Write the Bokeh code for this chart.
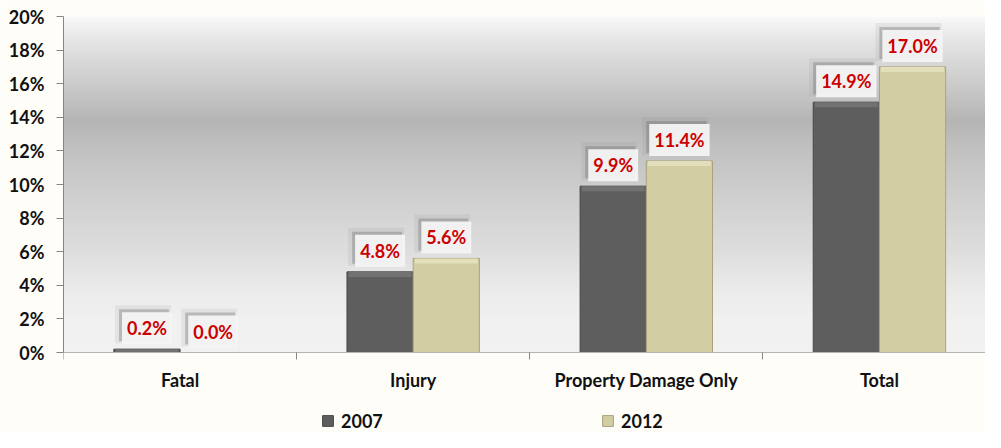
import numpy as np
from bokeh.plotting import figure
from bokeh.models import (ColumnDataSource, FixedTicker, PrintfTickFormatter,
                          Legend, LegendItem, Range1d)
from bokeh.core.properties import value
from bokeh.embed import file_html
from bokeh.resources import INLINE

# ---- data ----
categories = ["Fatal", "Injury", "Property Damage Only", "Total"]
years = ["2007", "2012"]
values_2007 = [0.2, 4.8, 9.9, 14.9]
values_2012 = [0.0, 5.6, 11.4, 17.0]
y_ticks = [0, 2, 4, 6, 8, 10, 12, 14, 16, 18, 20]

# ---- style ----
FONT = "Lato"
C2007 = "#5e5e5e"
C2007_LINE = "#474747"
C2007_TOP = "#727272"
C2012 = "#d3cda4"
C2012_LINE = "#a8a37e"
C2012_TOP = "#e4dfbb"
RED = "#cc0000"
PAGE_BG = "#fefdf8"
FS = "18px"

W, H = 985, 432
TOP_PX, ZERO_PX, LEFT_PX = 16, 352, 63
y_lo, y_hi = y_ticks[0], y_ticks[-1]
y_start = y_lo - (H - ZERO_PX) * (y_hi - y_lo) / (ZERO_PX - TOP_PX)

n = len(categories)
x_end = 3.955
dodge = 0.142
bar_w = 0.284
bevel = 0.3

idx = np.arange(n) + 0.5
v07 = np.array(values_2007)
v12 = np.array(values_2012)
src07 = ColumnDataSource(dict(x=idx - dodge, top=v07, bev=np.maximum(v07 - bevel, 0),
                              label=["%.1f%%" % v for v in values_2007]))
src12 = ColumnDataSource(dict(x=idx + dodge, top=v12, bev=np.maximum(v12 - bevel, 0),
                              label=["%.1f%%" % v for v in values_2012]))

p = figure(width=W, height=H, output_backend="svg", toolbar_location=None,
           x_range=Range1d(0, x_end), y_range=Range1d(y_start, y_hi),
           min_border_left=LEFT_PX, min_border_right=0, min_border_top=TOP_PX,
           min_border_bottom=0)
p.border_fill_color = PAGE_BG
p.background_fill_color = PAGE_BG
p.outline_line_color = None
p.xgrid.visible = False
p.ygrid.visible = False

# background gradient of the plot area
stops_pos = [0.0, 0.066, 0.18, 0.31, 0.38, 0.52, 0.70, 0.81, 0.90, 1.0]
stops_val = [249, 230, 208, 181, 192, 206, 222, 235, 241, 242]
rows = 200
t = np.linspace(1, 0, rows)  # image row 0 is bottom
g = np.interp(t, stops_pos, stops_val).astype(np.uint32)
img = np.empty((rows, 1), dtype=np.uint32)
img[:, 0] = (255 << 24) | (g << 16) | (g << 8) | g
p.image_rgba(image=[img], x=0, y=y_lo, dw=x_end, dh=y_hi - y_lo)

# bars
r07 = p.vbar(x="x", top="top", width=bar_w, source=src07, fill_color=C2007,
             line_color=C2007_LINE, line_width=1)
r12 = p.vbar(x="x", top="top", width=bar_w, source=src12, fill_color=C2012,
             line_color=C2012_LINE, line_width=1)
# bevel highlight on bar tops
p.vbar(x="x", top="top", bottom="bev", width=bar_w * 0.95, source=src07,
       fill_color=C2007_TOP, line_color=None)
p.vbar(x="x", top="top", bottom="bev", width=bar_w * 0.95, source=src12,
       fill_color=C2012_TOP, line_color=None)

# data labels with shadowed boxes
for src in (src07, src12):
    p.text(x="x", y="top", text="label", source=src, x_offset=-4, y_offset=-25,
           text_align="center", text_baseline="middle",
           text_font=value(FONT), text_font_style="bold", text_font_size=FS,
           text_alpha=0, padding=8, background_fill_color="#808080",
           background_fill_alpha=0.12)
    p.text(x="x", y="top", text="label", source=src, x_offset=-3, y_offset=-24,
           text_align="center", text_baseline="middle",
           text_font=value(FONT), text_font_style="bold", text_font_size=FS,
           text_alpha=0, padding=5, background_fill_color="#6a6a6a",
           background_fill_alpha=0.35)
    p.text(x="x", y="top", text="label", source=src, y_offset=-21,
           text_align="center", text_baseline="middle",
           text_font=value(FONT), text_font_style="bold", text_font_size=FS,
           text_color=RED, padding=5, background_fill_color="#f4f4f4",
           background_fill_alpha=0.95)

# legend markers (legend only; no visible point)
m07 = p.scatter(x=[np.nan], y=[np.nan], marker="square", size=11,
                fill_color=C2007, line_color=C2007_LINE)
m12 = p.scatter(x=[np.nan], y=[np.nan], marker="square", size=11,
                fill_color=C2012, line_color=C2012_LINE)

# y axis
ya = p.yaxis[0]
ya.ticker = FixedTicker(ticks=y_ticks)
ya.formatter = PrintfTickFormatter(format="%d%%")
ya.bounds = (y_lo, y_hi)
ya.axis_line_color = "#868686"
ya.major_tick_line_color = "#868686"
ya.major_tick_out = 7
ya.major_tick_in = 0
ya.minor_tick_line_color = None
ya.major_label_standoff = 12
ya.major_label_text_font = FONT
ya.major_label_text_font_style = "bold"
ya.major_label_text_font_size = FS
ya.major_label_text_color = "#111111"

# x axis, drawn at y = 0 inside the frame
xa = p.xaxis[0]
xa.fixed_location = y_lo
xa.bounds = (0, x_end)
xa.ticker = FixedTicker(ticks=list(idx), minor_ticks=list(range(n)))
xa.major_label_overrides = {float(v): c for v, c in zip(idx, categories)}
xa.axis_line_color = "#b4b4b4"
xa.major_tick_line_color = None
xa.major_tick_out = 0
xa.major_tick_in = 0
xa.minor_tick_line_color = "#868686"
xa.minor_tick_out = 7
xa.minor_tick_in = 0
xa.major_label_standoff = 9
xa.major_label_text_font = FONT
xa.major_label_text_font_style = "bold"
xa.major_label_text_font_size = FS
xa.major_label_text_color = "#111111"

# legend
legend = Legend(items=[LegendItem(label=years[0], renderers=[m07]),
                       LegendItem(label=years[1], renderers=[m12])],
                orientation="horizontal", location=(251, -2),
                glyph_width=27, glyph_height=27, label_standoff=0,
                label_width=108, spacing=145, padding=0, margin=0,
                border_line_color=None, background_fill_alpha=0,
                label_text_font=FONT, label_text_font_style="bold",
                label_text_font_size=FS, label_text_color="#111111")
p.add_layout(legend, "center")

open("out.html", "w").write(file_html(p, INLINE))
